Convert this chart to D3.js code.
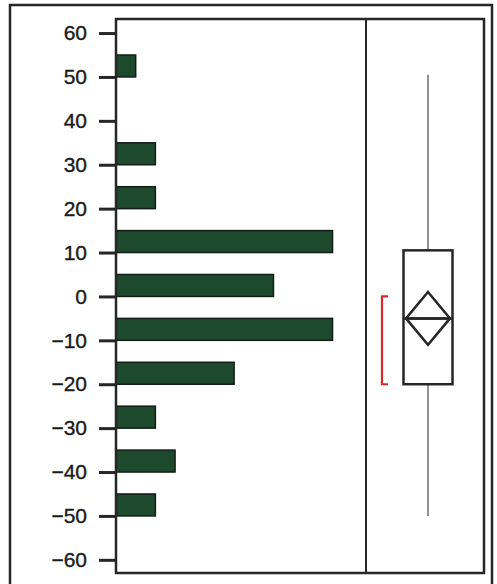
<!DOCTYPE html>
<html>
<head>
<meta charset="utf-8">
<script src="https://cdn.jsdelivr.net/npm/d3@7"></script>
<style>
  html, body { margin: 0; padding: 0; background: #fff; }
  svg { display: block; }
</style>
</head>
<body>
<svg id="chart" width="497" height="584"></svg>
<script>
// ---- data ----
const binLow   = [50, 30, 20, 10, 0, -10, -20, -30, -40, -50];
const binHigh  = [55, 35, 25, 15, 5, -5, -15, -25, -35, -45];
const binCount = [1, 2, 2, 11, 8, 11, 6, 2, 3, 2];
const yTicks = [60, 50, 40, 30, 20, 10, 0, -10, -20, -30, -40, -50, -60];
const boxLabels = ["whiskerLow", "q1", "median", "q3", "whiskerHigh"];
const boxValues = [-50, -20, -5, 10.5, 50.5];
const meanDiamond = [-11, -5, 1];      // lower CI, mean, upper CI
const shortestHalf = [-20, 0];

// ---- layout ----
const svg = d3.select("#chart");
const W = 497, H = 584;
const plot = { left: 116, top: 19, right: 484, bottom: 573 };
const divX = 366;

svg.append("rect").attr("width", W).attr("height", H).attr("fill", "#fff");

const y = d3.scaleLinear().domain([-63, 63.2]).range([plot.bottom, plot.top]);
const x = d3.scaleLinear().domain([0, 12.7]).range([plot.left, divX]);

const ink = "#262626";

// outer frame
svg.append("rect")
  .attr("x", 10).attr("y", 5).attr("width", 482).attr("height", 600)
  .attr("fill", "none").attr("stroke", ink).attr("stroke-width", 2.5);

// histogram bars
const bins = binLow.map((lo, i) => ({ lo, hi: binHigh[i], n: binCount[i] }));
svg.append("g").selectAll("rect").data(bins).join("rect")
  .attr("x", x(0))
  .attr("y", d => y(d.hi))
  .attr("width", d => x(d.n) - x(0))
  .attr("height", d => y(d.lo) - y(d.hi))
  .attr("fill", "#1d4a2c")
  .attr("stroke", "#141c16")
  .attr("stroke-width", 1.5);

// y axis
const axis = svg.append("g")
  .attr("transform", `translate(${plot.left},0)`)
  .call(d3.axisLeft(y).tickValues(yTicks).tickSize(17).tickPadding(12));
axis.select(".domain").remove();
axis.selectAll(".tick line").attr("stroke", ink).attr("stroke-width", 3);
axis.selectAll(".tick text")
  .attr("fill", "#1a1a1a")
  .attr("stroke", "#1a1a1a")
  .attr("stroke-width", 0.35)
  .style("font-family", "'Liberation Sans', Arial, sans-serif")
  .style("font-size", "21px");

// plot frame + divider
svg.append("rect")
  .attr("x", plot.left).attr("y", plot.top)
  .attr("width", plot.right - plot.left).attr("height", plot.bottom - plot.top)
  .attr("fill", "none").attr("stroke", ink).attr("stroke-width", 2.5);
svg.append("line")
  .attr("x1", divX).attr("x2", divX).attr("y1", plot.top).attr("y2", plot.bottom)
  .attr("stroke", ink).attr("stroke-width", 2);

// box plot
const cx = 428, halfW = 24.5;
const bv = Object.fromEntries(boxLabels.map((k, i) => [k, boxValues[i]]));
const g = svg.append("g");

// whiskers
g.append("line").attr("x1", cx).attr("x2", cx)
  .attr("y1", y(bv.whiskerHigh)).attr("y2", y(bv.q3))
  .attr("stroke", "#777").attr("stroke-width", 1.6);
g.append("line").attr("x1", cx).attr("x2", cx)
  .attr("y1", y(bv.q1)).attr("y2", y(bv.whiskerLow))
  .attr("stroke", "#777").attr("stroke-width", 1.6);

// box
g.append("rect")
  .attr("x", cx - halfW).attr("y", y(bv.q3))
  .attr("width", halfW * 2).attr("height", y(bv.q1) - y(bv.q3))
  .attr("fill", "none").attr("stroke", ink).attr("stroke-width", 2.5);
// median
g.append("line").attr("x1", cx - halfW).attr("x2", cx + halfW)
  .attr("y1", y(bv.median)).attr("y2", y(bv.median))
  .attr("stroke", ink).attr("stroke-width", 2.5);

// mean diamond
const [ciLo, mean, ciHi] = meanDiamond;
const dHalf = 22;
g.append("path")
  .attr("d", d3.line()([
    [cx, y(ciHi)], [cx + dHalf, y(mean)], [cx, y(ciLo)], [cx - dHalf, y(mean)]
  ]) + "Z")
  .attr("fill", "none").attr("stroke", ink).attr("stroke-width", 2.5);
g.append("line").attr("x1", cx - dHalf).attr("x2", cx + dHalf)
  .attr("y1", y(mean)).attr("y2", y(mean))
  .attr("stroke", ink).attr("stroke-width", 2.5);

// shortest half bracket
const brX = 382;
g.append("path")
  .attr("d", d3.line()([
    [brX + 6, y(shortestHalf[1])], [brX, y(shortestHalf[1])],
    [brX, y(shortestHalf[0])], [brX + 6, y(shortestHalf[0])]
  ]))
  .attr("fill", "none").attr("stroke", "#d42a2a").attr("stroke-width", 2.2);
</script>
</body>
</html>
